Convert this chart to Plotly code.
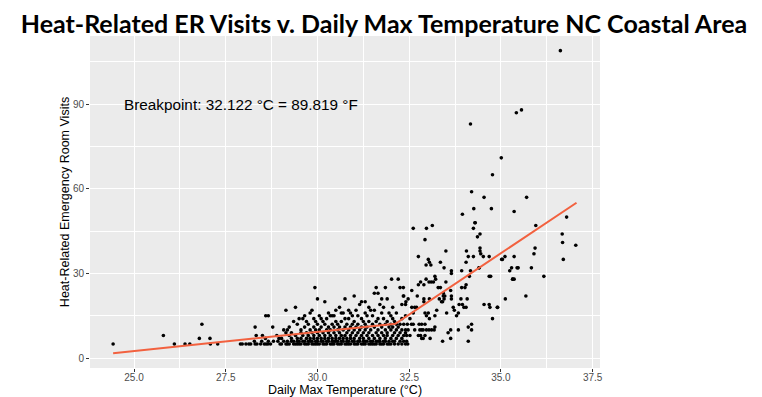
import plotly.graph_objects as go

# ---- sparse cool days (< 29 °C) ----
low_temp = [24.43, 25.80, 26.10, 26.39, 26.52, 26.85, 26.78, 27.07, 27.08, 27.28,
            27.90, 27.95, 28.05, 28.13, 28.18, 28.30, 28.35, 28.30, 28.28, 28.33,
            28.59, 28.66, 28.48, 28.50, 28.58, 28.66, 28.60, 28.65, 28.80, 28.78,
            28.89, 28.98, 28.92, 28.45, 28.55, 28.72, 28.95]
low_visits = [5, 8, 5, 5, 5, 12, 7, 7, 5, 5,
              5, 5, 5, 5, 5, 5, 5, 11, 6, 8,
              15, 15, 6, 8, 7, 6, 5, 5, 6, 11,
              8, 5, 6, 5, 5, 5, 7]

# ---- dense band 29-32.5 °C: one temperature per column, visits in that column ----
mid_temp = [29.02, 29.08, 29.14, 29.18, 29.23, 29.29, 29.35, 29.40, 29.45, 29.50,
            29.55, 29.60, 29.65, 29.70, 29.75, 29.80, 29.85, 29.90, 29.93, 29.95,
            30.00, 30.05, 30.10, 30.15, 30.20, 30.25, 30.30, 30.35, 30.40, 30.45,
            30.50, 30.55, 30.60, 30.65, 30.70, 30.75, 30.80, 30.85, 30.90, 30.95,
            31.00, 31.05, 31.10, 31.15, 31.20, 31.25, 31.30, 31.35, 31.40, 31.45,
            31.50, 31.55, 31.60, 31.65, 31.70, 31.75, 31.80, 31.85, 31.90, 31.95,
            32.00, 32.02, 32.05, 32.10, 32.15, 32.20, 32.25, 32.30, 32.35, 32.40]
mid_visits = [[5, 7], [6, 10], [5, 17, 9], [5, 6, 10], [5, 11, 8], [6, 7, 9], [5, 6, 13], [5, 8, 18], [5, 6, 7, 12], [5, 6, 14],
              [5, 7, 9, 10], [6, 8, 14], [5, 6, 11, 15], [5, 7, 9, 13], [5, 6, 8, 12], [6, 7, 10, 16], [5, 6, 9, 17], [5, 7, 8, 11, 14], [25], [5, 6, 10, 13],
              [5, 6, 7, 9, 12, 21], [5, 8, 10, 15], [6, 7, 11, 14], [5, 6, 9, 13], [5, 7, 8, 12, 20], [5, 6, 10, 14], [6, 7, 9, 11, 16], [5, 8, 10, 15], [5, 6, 7, 12, 15], [5, 6, 9, 11, 15],
              [6, 7, 8, 13, 17], [5, 6, 10, 12], [5, 7, 9, 11, 18], [5, 6, 8, 13, 16], [6, 7, 10, 16], [5, 8, 11, 14, 21], [5, 6, 7, 9, 12], [5, 6, 10, 14, 17], [5, 7, 8, 11, 16], [6, 9, 12, 15],
              [5, 6, 7, 10, 13, 22], [5, 8, 11, 17], [5, 6, 9, 12, 15], [6, 7, 10, 19], [5, 8, 11, 14, 20], [5, 6, 7, 9, 13], [5, 6, 10, 12, 20, 16], [6, 8, 11, 15], [5, 7, 9, 13, 18], [5, 6, 10, 17],
              [5, 6, 8, 12, 15], [5, 7, 11, 17, 23], [5, 6, 9, 13, 25], [6, 8, 10, 14, 23], [5, 6, 7, 12, 19], [5, 9, 11, 16, 21], [5, 6, 8, 14, 18], [6, 7, 10, 12, 25], [5, 8, 9, 13, 21], [5, 6, 11, 16],
              [5, 7, 10, 12, 15], [28], [6, 8, 11, 14, 18], [5, 6, 9, 13], [7, 10, 12, 16], [5, 8, 11, 28], [6, 9, 12, 25], [5, 7, 10, 14, 19], [6, 8, 12, 22], [5, 9, 10, 15, 19]]

# ---- hot days (> 32.4 °C) ----
high_temp = [32.34, 32.57, 32.34, 32.41, 32.47, 32.61, 32.97, 33.13, 32.93, 32.75,
             33.02, 33.05, 32.96, 33.09, 33.35, 33.45, 33.50, 33.65, 33.65, 33.93,
             34.17, 34.14, 34.40, 33.95, 34.30, 34.25, 34.43, 34.36, 34.20, 34.54,
             35.70, 34.26, 34.74, 35.36, 36.79, 35.95, 36.67, 36.68, 37.04, 36.70,
             35.93, 35.90, 34.43, 34.43, 34.45, 34.52, 34.68, 34.06, 34.11, 34.05,
             34.25, 35.02, 35.11, 35.36, 35.24, 35.29, 35.44, 35.32, 35.36, 35.83,
             36.17, 34.72, 33.20, 33.22, 33.10, 33.04, 33.16, 32.96, 32.81, 32.75,
             32.90, 33.50, 33.29, 33.35, 33.63, 33.93, 34.02, 34.05, 32.72, 32.90,
             32.90, 33.05, 33.43, 33.43, 33.47, 33.45, 33.41, 33.65, 33.65, 33.91,
             34.08, 33.86, 33.95, 34.05, 33.99, 33.70, 33.73, 33.32, 33.38, 33.52,
             32.57, 32.65, 32.70, 32.61, 32.93, 33.02, 32.97, 33.05, 33.20, 33.25,
             34.54, 34.68, 34.70, 34.91, 35.12, 35.68, 34.77, 33.79, 33.84, 34.20,
             34.11, 34.20, 33.63, 33.84, 33.41, 33.63, 34.11, 32.45, 32.56, 32.61,
             32.77, 32.84, 32.93, 32.47, 32.65, 32.79, 32.84, 32.88, 32.97, 33.04,
             33.11, 33.18, 33.20, 32.43, 32.52, 32.75, 32.81, 32.84, 32.88, 32.93,
             33.07, 32.43, 32.46, 35.42, 35.56, 34.17, 35.01, 34.77, 36.62, 34.29,
             35.04, 35.47, 34.68, 34.41, 34.90, 35.32, 33.56, 32.52]
high_visits = [25, 24, 22, 20, 21, 46, 46, 47, 42, 36,
               35, 34, 33, 33, 34, 32, 38, 31, 30, 31,
               31, 29, 32, 51, 48, 46, 44, 43, 59, 57,
               57, 53, 53, 52, 50, 47, 44, 41, 40, 35,
               39, 37, 39, 38, 37, 36, 36, 38, 36, 34,
               36, 35, 36, 36, 31, 32, 32, 28, 28, 32,
               29, 29, 29, 28, 27, 27, 27, 28, 27, 26,
               26, 27, 25, 25, 24, 25, 25, 26, 22, 21,
               20, 21, 23, 22, 22, 21, 20, 22, 21, 21,
               21, 19, 19, 18, 18, 18, 17, 21, 20, 16,
               18, 18, 18, 16, 16, 16, 15, 14, 15, 17,
               19, 19, 18, 18, 21, 22, 14, 15, 16, 12,
               11, 10, 10, 10, 6, 7, 6, 12, 12, 12,
               12, 12, 12, 10, 10, 10, 10, 10, 10, 10,
               10, 10, 11, 8, 8, 8, 8, 7, 7, 8,
               7, 6, 5, 87, 88, 83, 71, 65, 109, 48,
               35, 32, 29, 32, 18, 28, 9, 14]

# ---- fitted segmented regression line ----
seg_temp = [24.43, 32.122, 37.06]
seg_visits = [1.7, 12.2, 55.1]

x_ticks = [25.0, 27.5, 30.0, 32.5, 35.0, 37.5]
y_ticks = [0, 30, 60, 90]

# build point arrays
pts_x, pts_y = list(low_temp), list(low_visits)
for t, vs in zip(mid_temp, mid_visits):
    for v in vs:
        pts_x.append(t)
        pts_y.append(v)
pts_x += high_temp
pts_y += high_visits

fig = go.Figure()
fig.add_trace(go.Scatter(x=pts_x, y=pts_y, mode="markers",
                         marker=dict(color="black", size=3.6, line=dict(width=0)),
                         hoverinfo="skip", showlegend=False))
fig.add_trace(go.Scatter(x=seg_temp, y=seg_visits, mode="lines",
                         line=dict(color="#F2613F", width=2),
                         hoverinfo="skip", showlegend=False))

fig.add_annotation(x=24.67, y=90, xref="x", yref="y", xanchor="left", yanchor="middle",
                   text="Breakpoint: 32.122 °C = 89.819 °F", showarrow=False,
                   font=dict(family="Liberation Sans, Arial", size=15.3, color="black"))

axis_font = dict(family="Liberation Sans, Arial", size=10, color="#4D4D4D")
title_font = dict(family="Liberation Sans, Arial", size=12.5, color="black")

# page body adds an 8px offset, so the figure is 8px smaller and shifted accordingly
W, H = 754, 389
fig.update_layout(
    width=W, height=H,
    margin=dict(l=82, r=162, t=28, b=29, autoexpand=False),
    paper_bgcolor="white", plot_bgcolor="#EBEBEB",
    title=dict(text="<b>Heat-Related ER Visits v. Daily Max Temperature NC Coastal Area</b>",
               x=376/W, xref="container", xanchor="center",
               y=1 - 16/H, yref="container", yanchor="middle",
               font=dict(family="Lato, Open Sans, Arial", size=25, color="black")),
    xaxis=dict(range=[23.80, 37.70], tickvals=x_ticks, ticktext=[f"{v:.1f}" for v in x_ticks],
               automargin=False,
               showgrid=True, gridcolor="white", gridwidth=1.1,
               minor=dict(tickvals=[23.75, 26.25, 28.75, 31.25, 33.75, 36.25], showgrid=True,
                          gridcolor="white", gridwidth=0.5, ticks=""),
               zeroline=False, showline=False,
               ticks="outside", ticklen=3, tickcolor="#333333", tickwidth=1,
               ticklabelstandoff=-3,
               tickfont=axis_font,
               title=dict(text="Daily Max Temperature (°C)", font=title_font, standoff=2)),
    yaxis=dict(range=[-3.5, 114.2], tickvals=y_ticks,
               automargin=False,
               showgrid=True, gridcolor="white", gridwidth=1.1,
               minor=dict(tickvals=[15, 45, 75, 105], showgrid=True,
                          gridcolor="white", gridwidth=0.5, ticks=""),
               zeroline=False, showline=False,
               ticks="outside", ticklen=3, tickcolor="#333333", tickwidth=1,
               tickfont=axis_font,
               title=dict(text="Heat-Related Emergency Room Visits", font=title_font, standoff=0)),
)

fig.write_html("out.html")
